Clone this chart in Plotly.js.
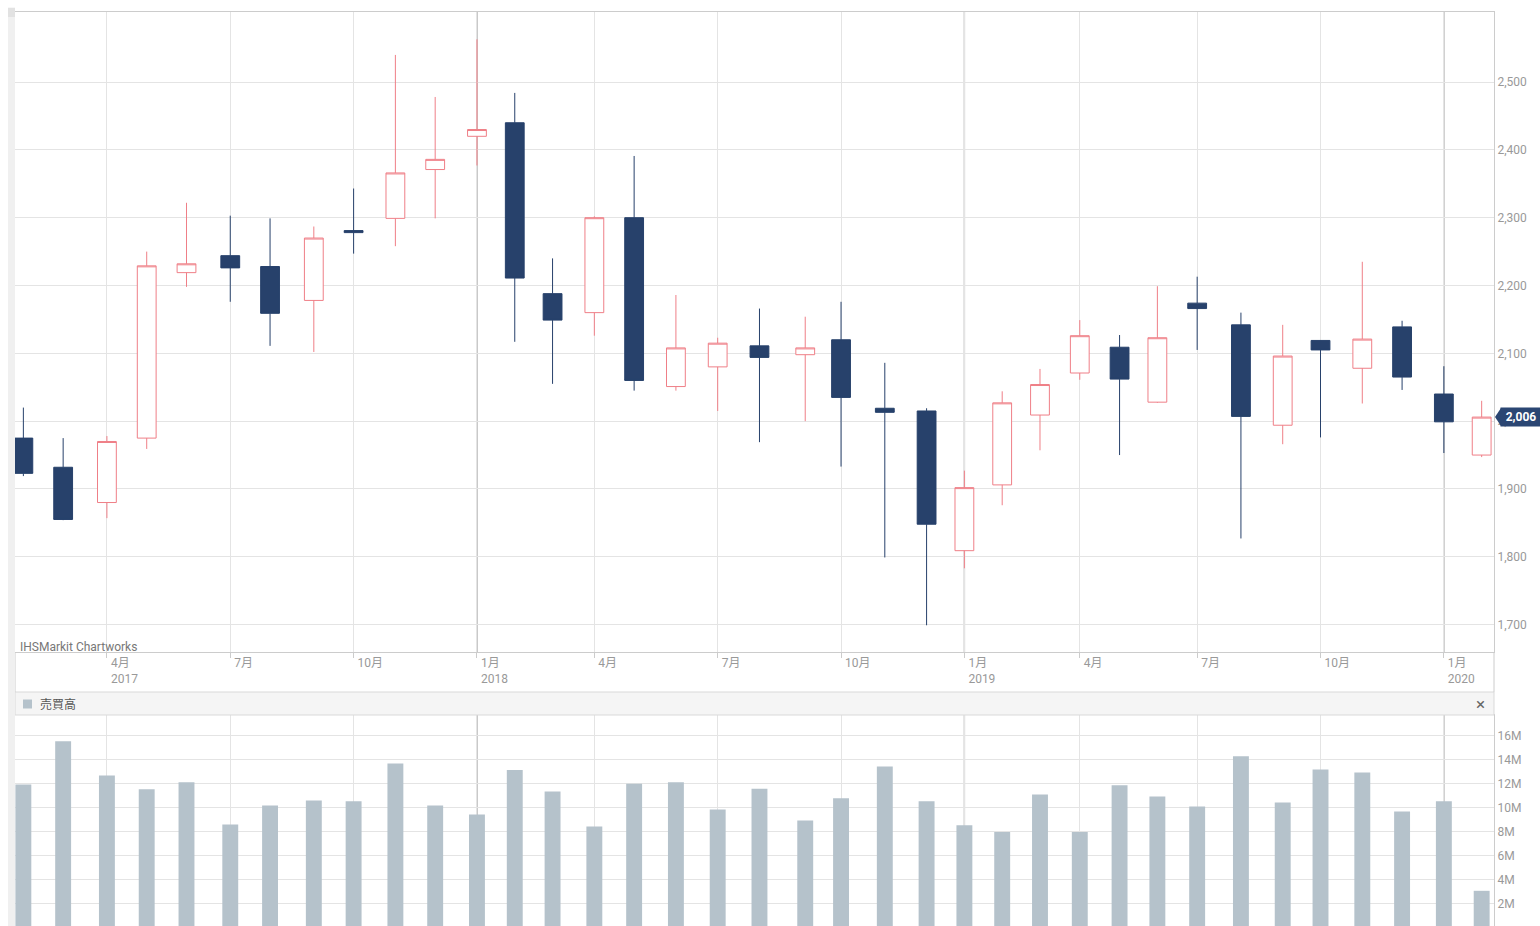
<!DOCTYPE html>
<html><head><meta charset="utf-8">
<script src="https://cdn.plot.ly/plotly-3.0.1.min.js"></script>
<style>html,body{margin:0;padding:0;background:#fff;}#chart{width:1540px;height:926px;}</style>
</head><body><div id="chart"></div>
<script>
// first trading day of each month (Tokyo Stock Exchange calendar)
const months = ['2017-02-01','2017-03-01','2017-04-03','2017-05-01','2017-06-01','2017-07-03','2017-08-01','2017-09-01','2017-10-02','2017-11-01','2017-12-01',
  '2018-01-04','2018-02-01','2018-03-01','2018-04-02','2018-05-01','2018-06-01','2018-07-02','2018-08-01','2018-09-03','2018-10-01','2018-11-01','2018-12-03',
  '2019-01-04','2019-02-01','2019-03-01','2019-04-01','2019-05-07','2019-06-03','2019-07-01','2019-08-01','2019-09-02','2019-10-01','2019-11-01','2019-12-02',
  '2020-01-06','2020-02-03'];
const openP  = [1975,1932,1880,1975,2219,2244,2228,2178,2281,2299,2371,2420,2440,2188,2160,2300,2051,2080,2111,2098,2120,2019,2015,1809,1906,2009,2071,2109,2028,2174,2142,1994,2119,2078,2139,2040,1950];
const highP  = [2020,1975,1978,2250,2322,2303,2299,2287,2343,2540,2478,2563,2484,2240,2302,2391,2186,2123,2166,2154,2176,2086,2019,1927,2044,2077,2149,2127,2199,2213,2160,2142,2119,2235,2148,2081,2030];
const lowP   = [1919,1854,1857,1959,2198,2176,2111,2102,2247,2258,2299,2377,2117,2055,2126,2045,2045,2015,1969,2000,1933,1799,1699,1783,1876,1957,2061,1950,2027,2105,1827,1966,1976,2026,2046,1953,1947];
const closeP = [1923,1855,1970,2229,2232,2226,2159,2270,2278,2366,2386,2430,2211,2149,2300,2060,2108,2115,2094,2108,2035,2013,1848,1902,2027,2054,2126,2062,2123,2166,2007,2096,2105,2121,2065,1999,2006];
const volume = [11940000,15530000,12690000,11530000,12110000,8610000,10190000,10610000,10530000,13690000,10190000,9440000,13140000,11360000,8440000,12000000,12110000,9860000,11580000,8940000,10780000,13440000,10530000,8530000,7970000,11110000,7970000,11860000,10940000,10110000,14280000,10440000,13190000,12940000,9690000,10530000,3080000];
const tickDates  = ['2017-04-03','2017-07-03','2017-10-02','2018-01-04','2018-04-02','2018-07-02','2018-10-01','2019-01-04','2019-04-01','2019-07-01','2019-10-01','2020-01-06'];
const tickLabels = ['4月<br>2017','7月','10月','1月<br>2018','4月','7月','10月','1月<br>2019','4月','7月','10月','1月<br>2020'];
const yearDates  = ['2018-01-04','2019-01-04','2020-01-06'];
const priceTicks = [1700,1800,1900,2000,2100,2200,2300,2400,2500];
const volTicks = [2e6,4e6,6e6,8e6,10e6,12e6,14e6,16e6];
const volTickLabels = ['2M','4M','6M','8M','10M','12M','14M','16M'];
const lastPrice = 2006, lastLabel = '2,006';
const holidays = ['2017-03-20','2017-05-03','2017-05-04','2017-05-05','2017-07-17','2017-08-11','2017-09-18','2017-10-09','2017-11-03','2017-11-23',
  '2018-01-01','2018-01-02','2018-01-03','2018-01-08','2018-02-12','2018-03-21','2018-04-30','2018-05-03','2018-05-04','2018-07-16','2018-09-17','2018-09-24','2018-10-08','2018-11-23','2018-12-24','2018-12-31',
  '2019-01-01','2019-01-02','2019-01-03','2019-01-14','2019-02-11','2019-03-21','2019-04-29','2019-04-30','2019-05-01','2019-05-02','2019-05-03','2019-05-06','2019-07-15','2019-08-12','2019-09-16','2019-09-23','2019-10-14','2019-10-22','2019-11-04','2019-12-31',
  '2020-01-01','2020-01-02','2020-01-03','2020-01-13'];

// trading-day axis (weekends and exchange holidays skipped)
function dayNum(s){const p=s.split('-').map(Number);return Date.UTC(p[0],p[1]-1,p[2])/86400000;}
const holidaySet = new Set(holidays.map(dayNum));
const base = dayNum(months[0]);
function tIdx(s){const t=dayNum(s);let n=0;for(let d=base;d<t;d++){const w=new Date(d*86400000).getUTCDay();if(w!==0&&w!==6&&!holidaySet.has(d))n++;}return n;}
const xs = months.map(tIdx);
const tickVals = tickDates.map(tIdx);
const yearVals = yearDates.map(tIdx);

const FONT = 'Roboto, "Noto Sans CJK JP", sans-serif';
const NAVY = '#27416b', PINK = '#ef7f87';
const mainBottom = (926-652)/914, volTop = (926-715)/914, headTop = (926-692)/914, headMid = (926-704)/914;

const traces = [
  {type:'candlestick', x:xs, open:openP, high:highP, low:lowP, close:closeP, xaxis:'x', yaxis:'y',
   increasing:{line:{color:PINK,width:1},fillcolor:'#ffffff'},
   decreasing:{line:{color:NAVY,width:1},fillcolor:NAVY},
   whiskerwidth:0, hoverinfo:'skip', showlegend:false},
  {type:'bar', x:xs, y:volume, xaxis:'x2', yaxis:'y2', width:8,
   marker:{color:'#b5c2cb',line:{width:0}}, hoverinfo:'skip', showlegend:false}
];

const shapes = [];
yearVals.forEach(v=>{
  shapes.push({type:'line',xref:'x',yref:'y domain',x0:v,x1:v,y0:0,y1:1,line:{color:'#adadad',width:1.4},layer:'below'});
  shapes.push({type:'line',xref:'x2',yref:'y2 domain',x0:v,x1:v,y0:0,y1:1,line:{color:'#adadad',width:1.4},layer:'below'});
});
shapes.push({type:'rect',xref:'paper',yref:'paper',x0:0,x1:1,y0:volTop,y1:headTop,fillcolor:'#f5f5f5',line:{color:'#d9d9d9',width:1}});
shapes.push({type:'line',xref:'paper',yref:'paper',x0:0,x1:0,y0:headTop,y1:mainBottom,line:{color:'#cccccc',width:1}});
shapes.push({type:'line',xref:'paper',yref:'paper',x0:1,x1:1,y0:headTop,y1:mainBottom,line:{color:'#cccccc',width:1}});
shapes.push({type:'rect',xref:'paper',yref:'paper',xsizemode:'pixel',xanchor:0,x0:8,x1:17,ysizemode:'pixel',yanchor:headMid,y0:-4.5,y1:4.5,fillcolor:'#b5c2cb',line:{width:0}});
shapes.push({type:'rect',xref:'paper',yref:'paper',xsizemode:'pixel',xanchor:0,x0:-7,x1:0,y0:0,y1:1.005,fillcolor:'#f0f0f0',line:{width:0}});
shapes.push({type:'rect',xref:'paper',yref:'paper',xsizemode:'pixel',xanchor:0,x0:-7,x1:0,ysizemode:'pixel',yanchor:1,y0:-5,y1:4,fillcolor:'#e2e2e2',line:{width:0}});
shapes.push({type:'path',xref:'paper',yref:'y',xsizemode:'pixel',ysizemode:'pixel',xanchor:1,yanchor:lastPrice,path:'M 1 0 L 7 9 L 7 -9 Z',fillcolor:'#2b4673',line:{width:0}});

const annotations = [
  {xref:'paper',yref:'paper',x:0,xshift:3,xanchor:'left',y:mainBottom,yshift:-4,yanchor:'bottom',text:'IHSMarkit Chartworks',showarrow:false,font:{family:FONT,size:12,color:'#777'}},
  {xref:'paper',yref:'paper',x:0,xshift:23,xanchor:'left',y:headMid,yanchor:'middle',text:'売買高',showarrow:false,font:{family:FONT,size:12,color:'#555'}},
  {xref:'paper',yref:'paper',x:1,xshift:-7,xanchor:'right',y:headMid,yanchor:'middle',text:'×',showarrow:false,font:{family:FONT,size:17,color:'#666'}},
  {xref:'paper',yref:'y',x:1,xshift:6,xanchor:'left',y:lastPrice,yanchor:'middle',text:'<b>'+lastLabel+'</b>',showarrow:false,bgcolor:'#2b4673',borderpad:2,width:36,font:{family:FONT,size:12,color:'#ffffff'}}
];

const gridC = '#e4e4e4', lineC = '#cccccc';
const layout = {
  width:1540, height:926, margin:{l:15,r:46,t:12,b:0},
  paper_bgcolor:'#ffffff', plot_bgcolor:'#ffffff', showlegend:false,
  font:{family:FONT,size:12,color:'#999'},
  boxgap:0.3, boxgroupgap:0.25,
  xaxis:{domain:[0,1],anchor:'y',range:[xs[0]-4.2,xs[xs.length-1]+6.2],tickmode:'array',tickvals:tickVals,ticktext:tickLabels,
    ticks:'outside',ticklen:5,tickcolor:lineC,ticklabelposition:'outside right',ticklabelshift:3,tickfont:{family:FONT,size:12,color:'#999'},
    showgrid:true,gridcolor:gridC,showline:true,mirror:true,linecolor:lineC,zeroline:false,rangeslider:{visible:false},fixedrange:true},
  yaxis:{domain:[mainBottom,1],anchor:'x',side:'right',range:[1659.6,2603.3],tickmode:'array',tickvals:priceTicks,tickformat:',',
    ticks:'',showgrid:true,gridcolor:gridC,showline:true,mirror:true,linecolor:lineC,zeroline:false,tickfont:{family:FONT,size:12,color:'#999'},fixedrange:true},
  xaxis2:{domain:[0,1],anchor:'y2',matches:'x',tickmode:'array',tickvals:tickVals,showticklabels:false,ticks:'',
    showgrid:true,gridcolor:gridC,showline:true,mirror:true,linecolor:lineC,zeroline:false,rangeslider:{visible:false},fixedrange:true},
  yaxis2:{domain:[0,volTop],anchor:'x2',side:'right',range:[0.15e6,17.72e6],tickmode:'array',tickvals:volTicks,ticktext:volTickLabels,
    ticks:'',showgrid:true,gridcolor:gridC,showline:true,mirror:true,linecolor:lineC,zeroline:false,tickfont:{family:FONT,size:12,color:'#999'},fixedrange:true},
  shapes:shapes, annotations:annotations
};
Plotly.newPlot('chart', traces, layout, {displayModeBar:false, staticPlot:true});
</script></body></html>
